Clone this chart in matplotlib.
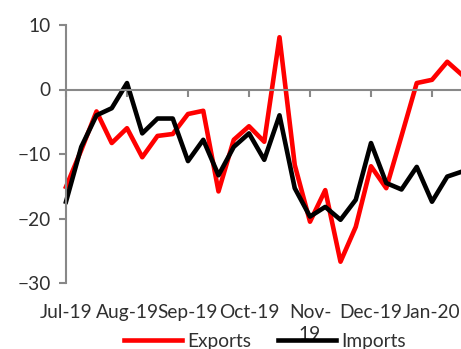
"""Weekly export and import growth, Jul-19 to Jan-20"""

import matplotlib.pyplot as plt

# Month labels, one every fourth observation
months = ['Jul-19', 'Aug-19', 'Sep-19', 'Oct-19', 'Nov-\n19', 'Dec-19', 'Jan-20']

# Growth rates (%), 27 observations
exports = [-15.1, -9.4, -3.4, -8.3, -6.0, -10.5, -7.2, -6.9, -3.8, -3.3,
           -15.8, -7.8, -5.7, -8.1, 8.1, -11.7, -20.5, -15.6, -26.7, -21.3,
           -11.9, -15.3, -7.2, 1.0, 1.5, 4.3, 2.2]
imports = [-17.4, -8.9, -4.0, -2.9, 1.0, -6.8, -4.5, -4.5, -11.1, -7.8,
           -13.3, -8.9, -6.8, -10.9, -4.0, -15.3, -19.7, -18.2, -20.2, -17.1,
           -8.3, -14.5, -15.5, -12.0, -17.4, -13.5, -12.7]

AXIS = '#888888'
TEXT = '#303030'

plt.rcParams['font.family'] = ['Lato', 'DejaVu Sans']
plt.rcParams['font.size'] = 13.8

fig = plt.figure(figsize=(4.61, 3.49), dpi=100)
ax = fig.add_axes([66 / 461, 66 / 349, 396.5 / 461, 258 / 349])

x = list(range(len(exports)))
ax.plot(x, exports, color='#ff0000', lw=3.3, label='Exports', clip_on=False)
ax.plot(x, imports, color='#000000', lw=3.3, label='Imports', clip_on=False)

ax.set_xlim(0, len(x) - 1)
ax.set_ylim(-30, 10)
ax.set_yticks([-30, -20, -10, 0, 10])

# horizontal axis sits on zero, labels stay at the bottom
for side in ['top', 'right']:
    ax.spines[side].set_visible(False)
ax.spines['bottom'].set_position(('data', 0))
ax.spines['bottom'].set_color(AXIS)
ax.spines['bottom'].set_linewidth(1.5)
ax.spines['left'].set_color(AXIS)
ax.spines['left'].set_linewidth(1.5)
ax.set_xticks(range(0, len(x), 4))
ax.tick_params(axis='x', direction='out', length=5, width=1.5, color=AXIS,
               labelbottom=False)
ax.tick_params(axis='y', direction='out', length=5, width=1.5, color=AXIS,
               labelcolor=TEXT, pad=6)

sec = ax.secondary_xaxis('bottom')
sec.set_xticks(range(0, len(x), 4))
sec.set_xticklabels(months, color=TEXT, linespacing=1.4)
sec.tick_params(length=0, pad=15)
sec.spines['bottom'].set_visible(False)

fig.legend(loc='center', bbox_to_anchor=(0.575, 8 / 349), ncol=2,
           frameon=False, handlelength=3.0, handletextpad=0.3,
           columnspacing=1.4, labelcolor=TEXT)

fig.savefig('out.png', dpi=100)
